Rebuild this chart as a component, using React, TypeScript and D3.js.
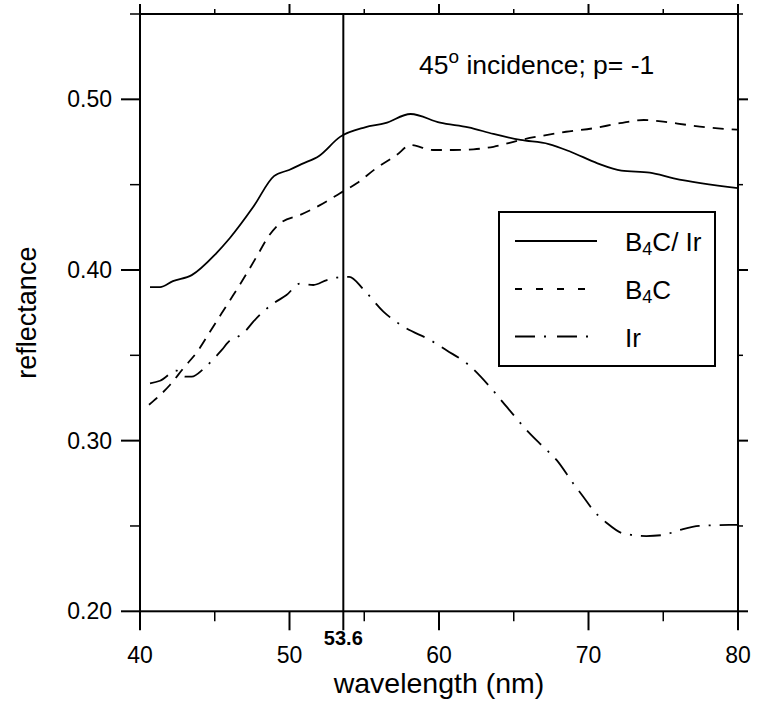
import React from "react";
import * as d3 from "d3";

// ---------- data ----------
const b4cIrWave = [40.67, 41.34, 42.2, 43.46, 45.1, 46.0, 47.58, 48.96, 49.97, 50.8, 52.0, 53.38, 55.05, 56.4, 58.1, 60.07, 61.97, 63.64, 65.45, 67.34, 68.8, 70.6, 72.2, 74.1, 75.7, 80.0];
const b4cIrRefl = [0.390, 0.390, 0.3935, 0.397, 0.4098, 0.4186, 0.437, 0.455, 0.4586, 0.462, 0.467, 0.478, 0.4836, 0.486, 0.4914, 0.4863, 0.4836, 0.4797, 0.4762, 0.4738, 0.4693, 0.4625, 0.4582, 0.457, 0.4537, 0.448];

const b4cWave = [40.6, 42.0, 42.9, 43.9, 44.68, 45.46, 46.24, 47.0, 47.8, 48.58, 49.36, 50.7, 52.04, 53.38, 54.5, 55.8, 57.17, 58.1, 59.6, 60.96, 62.3, 63.64, 65.45, 66.8, 68.5, 70.3, 72.1, 73.7, 75.0, 76.6, 77.9, 80.0];
const b4cRefl = [0.321, 0.3326, 0.3424, 0.353, 0.3638, 0.3746, 0.3853, 0.396, 0.4078, 0.4195, 0.4273, 0.4322, 0.438, 0.445, 0.4508, 0.4596, 0.4674, 0.4732, 0.4703, 0.4703, 0.4707, 0.4722, 0.4762, 0.4785, 0.481, 0.483, 0.486, 0.4879, 0.4869, 0.485, 0.4836, 0.4822];

const irWave = [40.67, 41.34, 42.45, 43.0, 43.46, 44.24, 44.9, 45.46, 46.0, 46.35, 47.0, 47.58, 48.24, 49.0, 49.8, 50.7, 51.6, 52.5, 53.7, 54.0, 54.94, 56.28, 57.7, 59.4, 60.5, 62.07, 63.4, 64.52, 65.86, 66.97, 67.86, 68.97, 69.65, 70.3, 71.2, 72.3, 73.87, 74.98, 76.1, 77.4, 79.4, 80.0];
const irRefl = [0.3336, 0.3351, 0.341, 0.3375, 0.3375, 0.342, 0.3477, 0.353, 0.3586, 0.360, 0.3638, 0.3697, 0.3756, 0.3808, 0.3853, 0.392, 0.3912, 0.3941, 0.396, 0.396, 0.3887, 0.3756, 0.3664, 0.359, 0.353, 0.3437, 0.3316, 0.3199, 0.3062, 0.2964, 0.2887, 0.275, 0.2671, 0.2594, 0.2519, 0.2457, 0.2441, 0.2447, 0.2476, 0.25, 0.2506, 0.2506];

const xMajorTicks = [40, 50, 60, 70, 80];
const xMinorTicks = [45, 55, 65, 75];
const yMajorTicks = [0.2, 0.3, 0.4, 0.5];
const yMinorTicks = [0.25, 0.35, 0.45, 0.55];
const markerWave = 53.6;
const seriesNames = ["B4C/ Ir", "B4C", "Ir"];

// ---------- layout ----------
const W = 757, H = 708;
const L = 140, R = 738, T = 14, B = 611.3;
const FONT = "'Liberation Sans', Arial, Helvetica, sans-serif";

export default function App() {
  const x = d3.scaleLinear().domain([40, 80]).range([L, R]);
  const y = d3.scaleLinear().domain([0.2, 0.55]).range([B, T]);
  const line = d3.line<[number, number]>().x(d => x(d[0])).y(d => y(d[1])).curve(d3.curveMonotoneX);
  const zip = (a: number[], b: number[]) => a.map((v, i) => [v, b[i]] as [number, number]);

  const series = [
    { pts: zip(b4cIrWave, b4cIrRefl), dash: "none", legDash: "none" },
    { pts: zip(b4cWave, b4cRefl), dash: "11,8", legDash: "7,14" },
    { pts: zip(irWave, irRefl), dash: "20,9,2,9", legDash: "20,9,2,11" },
  ];

  const legX0 = 499, legY0 = 212, legW = 216, legH = 154;
  const legRows = [241, 289, 336.5];

  return (
    <div style={{ position: "absolute", left: 0, top: 0 }}>
      <svg width={W} height={H} style={{ display: "block", background: "#fff" }} fontFamily={FONT}>
        <defs>
          <clipPath id="plot"><rect x={L} y={T} width={R - L} height={B - T} /></clipPath>
        </defs>
        {/* curves */}
        <g clipPath="url(#plot)">
          {series.map((s, i) => (
            <path key={i} d={line(s.pts) || ""} fill="none" stroke="#000" strokeWidth={1.8} strokeDasharray={s.dash} />
          ))}
        </g>
        {/* marker line */}
        <line x1={x(markerWave)} x2={x(markerWave)} y1={T} y2={B + 19} stroke="#000" strokeWidth={2} />
        <text x={x(markerWave)} y={645} textAnchor="middle" fontSize={20} fontWeight="bold">{markerWave}</text>
        {/* frame */}
        <rect x={L} y={T} width={R - L} height={B - T} fill="none" stroke="#000" strokeWidth={2} />
        {/* x ticks */}
        {xMajorTicks.map(t => (
          <g key={"xM" + t}>
            <line x1={x(t)} x2={x(t)} y1={B} y2={B + 19} stroke="#000" strokeWidth={2} />
            <line x1={x(t)} x2={x(t)} y1={T} y2={T - 10} stroke="#000" strokeWidth={2} />
            <text x={x(t)} y={663} textAnchor="middle" fontSize={23}>{t}</text>
          </g>
        ))}
        {xMinorTicks.map(t => (
          <g key={"xm" + t}>
            <line x1={x(t)} x2={x(t)} y1={B} y2={B + 10} stroke="#000" strokeWidth={1.5} />
            <line x1={x(t)} x2={x(t)} y1={T} y2={T - 5} stroke="#000" strokeWidth={1.5} />
          </g>
        ))}
        {/* y ticks */}
        {yMajorTicks.map(t => (
          <g key={"yM" + t}>
            <line x1={L} x2={L - 19} y1={y(t)} y2={y(t)} stroke="#000" strokeWidth={2} />
            <line x1={R} x2={R + 10} y1={y(t)} y2={y(t)} stroke="#000" strokeWidth={2} />
            <text x={112} y={y(t) + 8} textAnchor="end" fontSize={23}>{t.toFixed(2)}</text>
          </g>
        ))}
        {yMinorTicks.map(t => (
          <g key={"ym" + t}>
            <line x1={L} x2={L - 10} y1={y(t)} y2={y(t)} stroke="#000" strokeWidth={1.5} />
            <line x1={R} x2={R + 5} y1={y(t)} y2={y(t)} stroke="#000" strokeWidth={1.5} />
          </g>
        ))}
        {/* axis titles */}
        <text x={(L + R) / 2} y={693} textAnchor="middle" fontSize={28.5}>wavelength (nm)</text>
        <text transform={`translate(36, ${(T + B) / 2}) rotate(-90)`} textAnchor="middle" fontSize={27}>reflectance</text>
        {/* annotation */}
        <text x={419} y={74} fontSize={26.5}>
          45<tspan fontSize={19} dy={-11}>o</tspan><tspan dy={11}> incidence; p= -1</tspan>
        </text>
        {/* legend */}
        <rect x={legX0} y={legY0} width={legW} height={legH} fill="#fff" stroke="#000" strokeWidth={2} />
        {series.map((s, i) => (
          <g key={"leg" + i}>
            <line x1={515} x2={597} y1={legRows[i]} y2={legRows[i]} stroke="#000" strokeWidth={1.8} strokeDasharray={s.legDash} />
            <text x={625} y={legRows[i] + 10} fontSize={26}>
              {i < 2 ? (
                <>
                  B<tspan fontSize={18} dy={4}>4</tspan><tspan dy={-4}>{seriesNames[i].slice(2)}</tspan>
                </>
              ) : seriesNames[i]}
            </text>
          </g>
        ))}
      </svg>
    </div>
  );
}
